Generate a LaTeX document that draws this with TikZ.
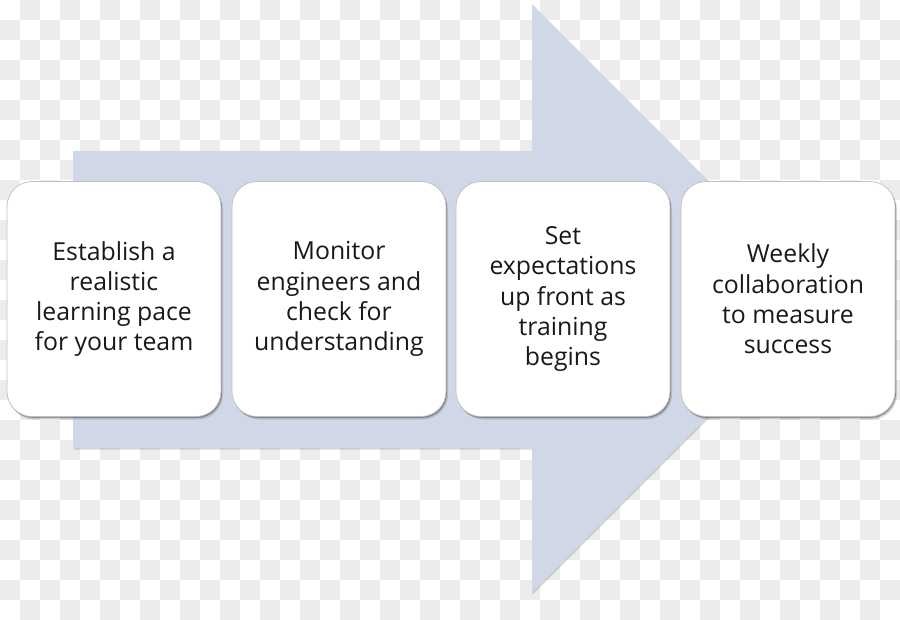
\documentclass[tikz,border=0pt]{standalone}
\usepackage{fontspec}
\setmainfont{Open Sans}
\usetikzlibrary{shadows}
\definecolor{arrowc}{RGB}{208,216,232}
\definecolor{checkc}{RGB}{236,236,236}
\definecolor{textc}{RGB}{25,25,25}
\tikzset{
  stepbox/.style={draw=black!25, line width=0.7pt, fill=white, rounded corners=25pt,
    minimum width=214pt, minimum height=235pt, align=center, text=textc,
    font=\fontsize{24.8}{30.2}\selectfont, inner sep=0pt,
    drop shadow={shadow xshift=1pt, shadow yshift=-1.5pt, opacity=0.45, fill=black!75},
    drop shadow={shadow xshift=2pt, shadow yshift=-3pt, opacity=0.2, fill=black!70}},
  arrowshape/.style={fill=arrowc,
    drop shadow={shadow xshift=0.8pt, shadow yshift=-1.5pt, opacity=0.25, fill=black!60}}
}
\begin{document}
\begin{tikzpicture}[x=1pt,y=-1pt]
\useasboundingbox (0,0) rectangle (900,620);
\fill[white] (0,0) rectangle (900,620);
\foreach \i in {0,...,44}{
  \foreach \j in {0,...,30}{
    \pgfmathtruncatemacro{\pty}{mod(\i+\j,2)}
    \ifnum\pty=1 \fill[checkc] (\i*20,\j*20) rectangle ++(20,20); \fi
  }
}
% big arrow
\path[arrowshape] (73,151) -- (532,151) -- (532,4) -- (826,298.5) -- (532,593) -- (532,448) -- (73,448) -- cycle;
% steps
\node[stepbox] (b1) at (114,299) {Establish a\\realistic\\learning pace\\for your team};
\node[stepbox] (b2) at (339,299) {Monitor\\engineers and\\check for\\understanding};
\node[stepbox] (b3) at (563,299) {Set\\expectations\\up front as\\training\\begins};
\node[stepbox] (b4) at (788,299) {Weekly\\collaboration\\to measure\\success};
\end{tikzpicture}
\end{document}
